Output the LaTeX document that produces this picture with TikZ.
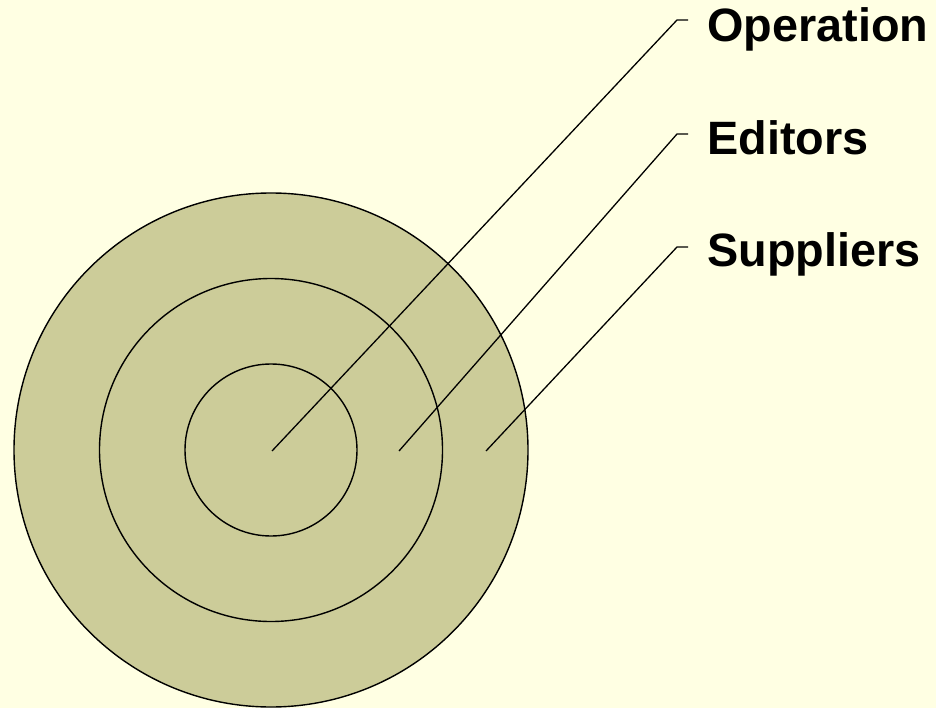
\documentclass[tikz,border=0pt]{standalone}
\usepackage{fontspec}
\setmainfont{Liberation Sans}
\usepackage{tikz}
\definecolor{paper}{HTML}{FFFFE3}
\definecolor{khaki}{HTML}{CCCC99}
\def\outercircle{(271,450) circle (257pt)}
\def\middlecircle{(271,450) circle (171.5pt)}
\def\innercircle{(271,450) circle (86pt)}
\tikzset{ring/.style={draw=black,line width=1.4pt},
    leader/.style={draw=black,line width=1.3pt},
    tag/.style={anchor=base west,inner sep=0pt,font=\fontsize{46.8}{56}\bfseries}}

\begin{document}
\begin{tikzpicture}[x=1pt,y=-1pt]
    \fill[paper] (0,0) rectangle (936,708);
    \useasboundingbox (0,0) rectangle (936,708);
    \fill[khaki] \outercircle;
    \draw[ring] \outercircle;
    \draw[ring] \middlecircle;
    \draw[ring] \innercircle;
    % leaders from the rings out to the labels
    \coordinate (opStart) at (272,451);
    \coordinate (edStart) at (399,451);
    \coordinate (suStart) at (486,451);
    \coordinate (opBend) at (677,20);
    \coordinate (edBend) at (677,134);
    \coordinate (suBend) at (677,247);
    \node[tag] (operation) at (707,42) {Operation};
    \node[tag] (editors) at (707,155) {Editors};
    \node[tag] (suppliers) at (707,267) {Suppliers};
    \draw[leader] (opStart) -- (opBend) -- ++(11,0);
    \draw[leader] (edStart) -- (edBend) -- ++(11,0);
    \draw[leader] (suStart) -- (suBend) -- ++(11,0);
\end{tikzpicture}
\end{document}
